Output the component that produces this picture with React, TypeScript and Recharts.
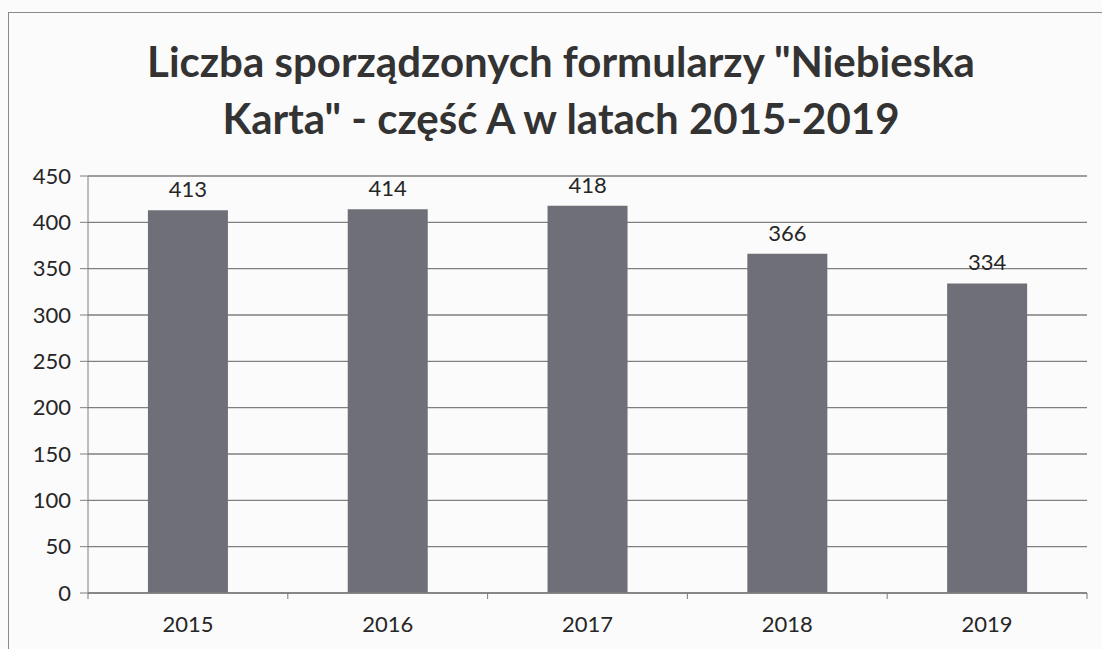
import { BarChart, Bar, XAxis, YAxis, CartesianGrid, LabelList } from "recharts"

const years = ["2015", "2016", "2017", "2018", "2019"]
const counts = [413, 414, 418, 366, 334]
const yTicks = [0, 50, 100, 150, 200, 250, 300, 350, 400, 450]
const titleLines = ['Liczba sporządzonych formularzy "Niebieska', 'Karta" - część A w latach 2015-2019']

const data = years.map((y, i) => ({ year: y, value: counts[i] }))

const W = 1102
const H = 649
const PLOT_LEFT = 88
const PLOT_RIGHT = 15
const HALF_BAND = (W - PLOT_LEFT - PLOT_RIGHT) / years.length / 2
const FONT = "Lato, 'Open Sans', sans-serif"
const INK = "#262626"

// x tick: label at band centre, small tick mark at band boundary (Excel style)
function YearTick({ x = 0, y = 0, payload, index }: any) {
  return (
    <g>
      {index === 0 && <line x1={x - HALF_BAND} y1={y - 8} x2={x - HALF_BAND} y2={y - 2} stroke="#7a7a7a" />}
      <line x1={x + HALF_BAND} y1={y - 8} x2={x + HALF_BAND} y2={y - 2} stroke="#7a7a7a" />
      <text x={x} y={y + 31} textAnchor="middle" fontSize={22} fill={INK} fontFamily={FONT}>
        {payload.value}
      </text>
    </g>
  )
}

export default function App() {
  return (
    <div style={{ position: "absolute", left: 0, top: 0, width: W, height: H, background: "#fbfbfb", overflow: "hidden" }}>
      <div style={{ position: "absolute", left: 8, top: 12, width: W, height: H, border: "1.5px solid #8a8a8a" }} />
      <div
        style={{
          position: "absolute",
          left: 0,
          top: 33,
          width: 1122,
          textAlign: "center",
          fontFamily: FONT,
          fontWeight: 700,
          fontSize: 42,
          lineHeight: "57px",
          color: "#333",
        }}
      >
        {titleLines.map((t) => (
          <div key={t}>{t}</div>
        ))}
      </div>
      <div style={{ position: "absolute", left: 0, top: 0 }}>
        <BarChart
          width={W}
          height={H}
          data={data}
          barCategoryGap="30%"
          margin={{ top: 176, right: PLOT_RIGHT, left: 8, bottom: 26 }}
        >
          <CartesianGrid vertical={false} stroke="#7f7f7f" strokeWidth={1.3} />
          <YAxis
            width={80}
            domain={[0, 450]}
            ticks={yTicks}
            interval={0}
            tickSize={8}
            tickLine={{ stroke: "#7f7f7f" }}
            axisLine={{ stroke: "#7f7f7f" }}
            tick={{ fontSize: 22, fill: INK, fontFamily: FONT }}
            tickMargin={9}
          />
          <XAxis
            dataKey="year"
            height={30}
            tickLine={false}
            axisLine={{ stroke: "#7f7f7f", strokeWidth: 1.3 }}
            tick={<YearTick />}
            interval={0}
          />
          <Bar dataKey="value" fill="#6f6f78" isAnimationActive={false}>
            <LabelList dataKey="value" position="top" offset={13} fontSize={22} fill={INK} fontFamily={FONT} />
          </Bar>
        </BarChart>
      </div>
    </div>
  )
}
